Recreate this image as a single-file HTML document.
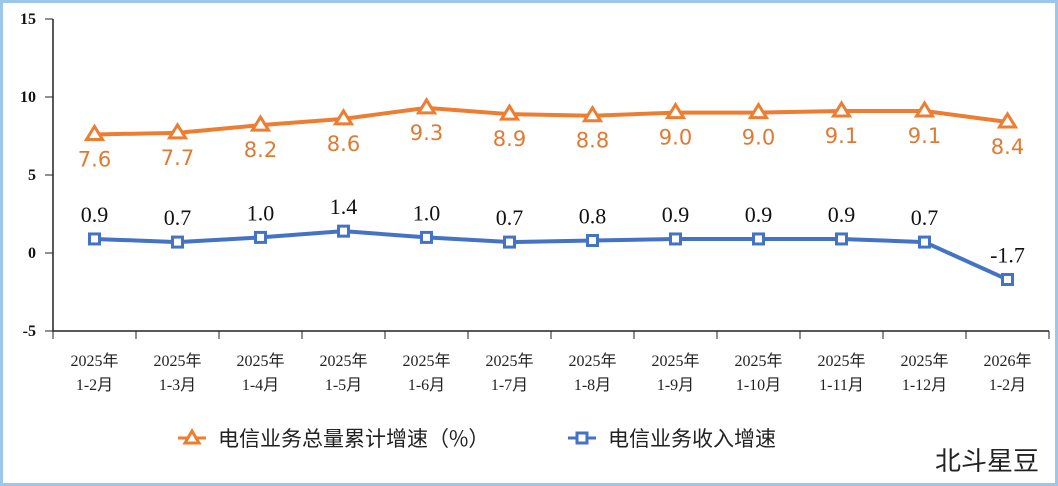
<!DOCTYPE html>
<html><head><meta charset="utf-8"><style>
html,body{margin:0;padding:0;background:#fff}
#wrap{position:relative;width:1052px;height:480px;border:3px solid #9cc7ea;background:#fff;overflow:hidden}
svg{position:absolute;left:-3px;top:-3px}
</style></head><body>
<div id="wrap">
<svg id="chart" width="1058" height="486"></svg>
</div>
<script>
const categories=["2025年|1-2月","2025年|1-3月","2025年|1-4月","2025年|1-5月","2025年|1-6月","2025年|1-7月","2025年|1-8月","2025年|1-9月","2025年|1-10月","2025年|1-11月","2025年|1-12月","2026年|1-2月"];
const volumeGrowth=[7.6,7.7,8.2,8.6,9.3,8.9,8.8,9.0,9.0,9.1,9.1,8.4];
const revenueGrowth=[0.9,0.7,1.0,1.4,1.0,0.7,0.8,0.9,0.9,0.9,0.7,-1.7];
const yTicks=[-5,0,5,10,15];
const seriesNames=["电信业务总量累计增速（%）","电信业务收入增速"];

const NS="http://www.w3.org/2000/svg";
const svg=document.getElementById('chart');
const X0=53,X1=1049,Y0=19,Y1=331,YMIN=-5,YMAX=15;
const step=(X1-X0)/categories.length;
const xc=i=>X0+step*(i+0.5);
const y=v=>Y1-(v-YMIN)/(YMAX-YMIN)*(Y1-Y0);
function mk(tag,attrs,parent){const e=document.createElementNS(NS,tag);for(const k in attrs)e.setAttribute(k,attrs[k]);(parent||svg).appendChild(e);return e;}

const ya=mk('line',{x1:X0,y1:Y0,x2:X0,y2:Y1,stroke:'#222','stroke-width':1.5});


const xa=mk('line',{x1:X0,y1:Y1,x2:X1,y2:Y1,stroke:'#222','stroke-width':1.5});


yTicks.forEach(t=>{
  mk('line',{x1:X0-8,y1:y(t),x2:X0,y2:y(t),stroke:'#222','stroke-width':1});
  const tx=mk('text',{x:X0-17,y:y(t)+5,'text-anchor':'end','font-family':'Liberation Serif, serif','font-size':16,'font-weight':'bold',fill:'#111'});
  tx.textContent=t;
  
  
});
for(let i=0;i<=categories.length;i++){
  mk('line',{x1:X0+step*i,y1:Y1,x2:X0+step*i,y2:Y1+8,stroke:'#222','stroke-width':1});
}
categories.forEach((c,i)=>{
  const p=c.split('|');
  const t=mk('text',{x:xc(i),y:Y1+35,'text-anchor':'middle','font-family':'Liberation Serif, "Noto Sans CJK SC", serif','font-size':16,fill:'#222'});
  
  
  const a=mk('tspan',{x:xc(i),dy:0},t);a.textContent=p[0];
  const b=mk('tspan',{x:xc(i),dy:24},t);b.textContent=p[1];
});
const op=mk('polyline',{points:volumeGrowth.map((v,i)=>xc(i)+','+y(v)).join(' '),fill:'none',stroke:'#ed7d31','stroke-width':4,'stroke-linejoin':'round'});


volumeGrowth.forEach((v,i)=>{
  const cx=xc(i),cy=y(v);
  const m=mk('polygon',{points:`${cx},${cy-8} ${cx-8},${cy+5} ${cx+8},${cy+5}`,fill:'#fff',stroke:'#ed7d31','stroke-width':3});
  
  
  const t=mk('text',{x:cx,y:cy+32,'text-anchor':'middle','font-family':'DejaVu Sans, sans-serif','font-size':21,fill:'#e07a32'});
  t.textContent=v.toFixed(1);
  
  
});
const bp=mk('polyline',{points:revenueGrowth.map((v,i)=>xc(i)+','+y(v)).join(' '),fill:'none',stroke:'#4472c4','stroke-width':4,'stroke-linejoin':'round'});


revenueGrowth.forEach((v,i)=>{
  const cx=xc(i),cy=y(v);
  const m=mk('rect',{x:cx-5,y:cy-5,width:10,height:10,fill:'#fff',stroke:'#4472c4','stroke-width':3});
  
  
  const t=mk('text',{x:cx,y:cy-17,'text-anchor':'middle','font-family':'Liberation Serif, serif','font-size':22,fill:'#111'});
  t.textContent=v.toFixed(1);
  
  
});
const lg=mk('g',{});


mk('line',{x1:178,y1:438,x2:206,y2:438,stroke:'#ed7d31','stroke-width':3},lg);
mk('polygon',{points:'192,431 185,443 199,443',fill:'#fff',stroke:'#ed7d31','stroke-width':3},lg);
const l1=mk('text',{x:218,y:446,'font-family':'"Noto Sans CJK SC", sans-serif','font-size':21,fill:'#222'},lg);
l1.textContent=seriesNames[0];


mk('line',{x1:568,y1:438,x2:596,y2:438,stroke:'#4472c4','stroke-width':3},lg);
mk('rect',{x:577,y:433,width:10,height:10,fill:'#fff',stroke:'#4472c4','stroke-width':3},lg);
const l2=mk('text',{x:608,y:446,'font-family':'"Noto Sans CJK SC", sans-serif','font-size':21,fill:'#222'},lg);
l2.textContent=seriesNames[1];


const wm=mk('text',{x:935,y:470,'font-family':'"Noto Sans CJK SC", sans-serif','font-size':26,fill:'#222'});
wm.textContent='北斗星豆';


</script>
</body></html>
